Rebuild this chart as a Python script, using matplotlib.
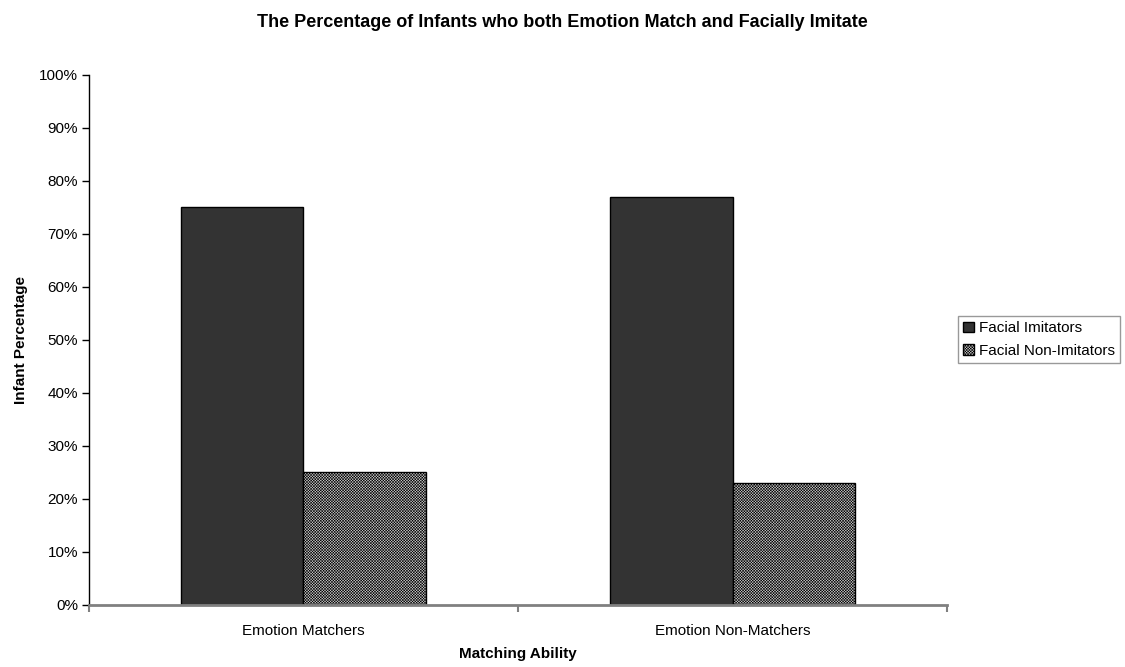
import numpy as np
import matplotlib.pyplot as plt
import matplotlib as mpl

plt.rcParams['font.family'] = ['Liberation Sans', 'DejaVu Sans']
mpl.rcParams['hatch.color'] = '#a0a0a0'
mpl.rcParams['hatch.linewidth'] = 0.4

categories = ['Emotion Matchers', 'Emotion Non-Matchers']
imitators = [75, 77]
non_imitators = [25, 23]
yticks = list(range(0, 101, 10))

fig = plt.figure(figsize=(11.25, 6.67), dpi=100)
ax = fig.add_axes([0.0791, 0.093, 0.7627, 0.7946])

x = np.arange(len(categories))
w = 1 / 3.5
ax.bar(x - w / 2, imitators, w, color='#333333', edgecolor='black', linewidth=1,
       label='Facial Imitators')
ax.bar(x + w / 2, non_imitators, w, color='#d0d0d0', edgecolor='black', linewidth=1,
       hatch='xxxxxxxxxxxx', label='Facial Non-Imitators')

ax.set_xlim(-0.5, len(categories) - 0.5)
ax.set_ylim(0, 100)
ax.set_yticks(yticks)
ax.set_yticklabels([f'{t}%' for t in yticks], fontsize=11)
ax.tick_params(axis='y', direction='out', length=5, width=1, pad=3)

# category labels centred, tick marks on the category boundaries
ax.set_xticks(x)
ax.set_xticklabels(categories, fontsize=11)
ax.tick_params(axis='x', which='major', length=0, pad=14)
ax.set_xticks([-0.5, 0.5, 1.5], minor=True)
ax.tick_params(axis='x', which='minor', direction='out', length=5, width=1.5,
               color='#808080')

for side in ['top', 'right']:
    ax.spines[side].set_visible(False)
ax.spines['left'].set_color('black')
ax.spines['left'].set_linewidth(1)
ax.spines['bottom'].set_color('#808080')
ax.spines['bottom'].set_linewidth(2)

ax.set_xlabel('Matching Ability', fontsize=11, fontweight='bold', labelpad=6)
ax.set_ylabel('Infant Percentage', fontsize=11, fontweight='bold', labelpad=8)
fig.text(0.5, 0.967, 'The Percentage of Infants who both Emotion Match and Facially Imitate',
         fontsize=13, fontweight='bold', ha='center', va='center')

leg = ax.legend(loc='upper left', bbox_to_anchor=(958 / 1125, 1 - 316 / 667),
                bbox_transform=fig.transFigure, fontsize=11, frameon=True,
                fancybox=False, edgecolor='#808080', handlelength=0.7,
                handleheight=0.7, handletextpad=0.3, borderpad=0.35,
                labelspacing=0.55, borderaxespad=0)
leg.get_frame().set_linewidth(1)

fig.savefig('out.png', dpi=100)
